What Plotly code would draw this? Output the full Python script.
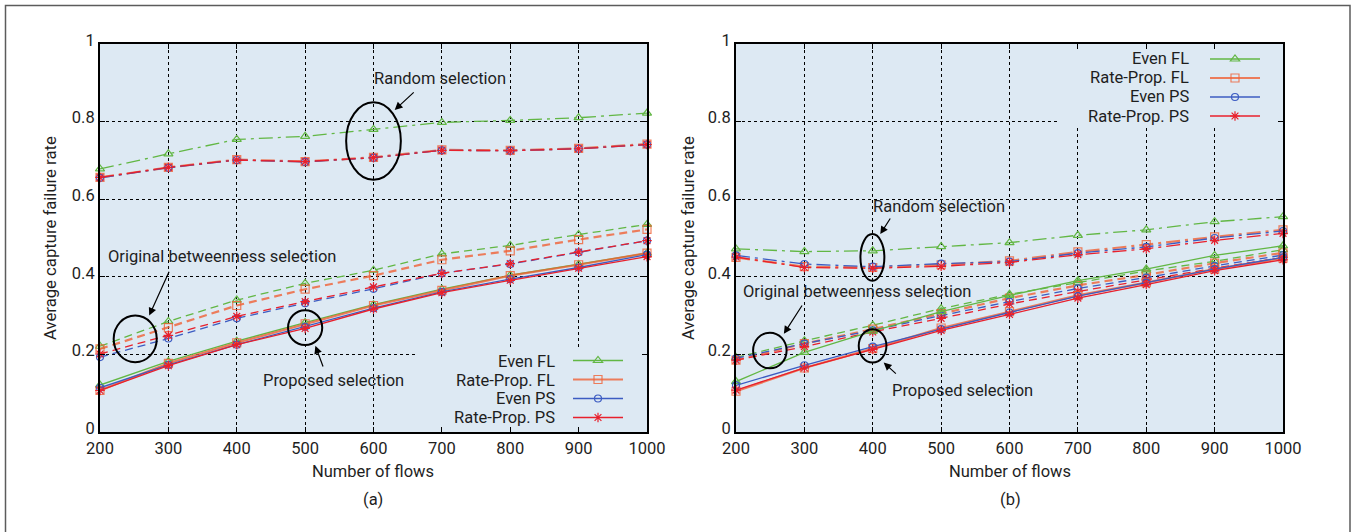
import plotly.graph_objects as go

# ---------------------------------------------------------------- data
flows = [200, 300, 400, 500, 600, 700, 800, 900, 1000]
y_ticks = [0, 0.2, 0.4, 0.6, 0.8, 1.0]
y_tick_text = ["0", "0.2", "0.4", "0.6", "0.8", "1"]
series_names = ["Even FL", "Rate-Prop. FL", "Even PS", "Rate-Prop. PS"]

# (a) random selection
a_rand_even_fl = [0.678, 0.717, 0.754, 0.762, 0.780, 0.798, 0.803, 0.810, 0.822]
a_rand_rate_fl = [0.656, 0.682, 0.702, 0.697, 0.708, 0.727, 0.726, 0.731, 0.742]
a_rand_even_ps = [0.655, 0.681, 0.701, 0.696, 0.707, 0.726, 0.725, 0.730, 0.741]
a_rand_rate_ps = [0.656, 0.682, 0.701, 0.697, 0.707, 0.726, 0.725, 0.730, 0.741]
# (a) original betweenness selection
a_orig_even_fl = [0.221, 0.285, 0.340, 0.383, 0.417, 0.459, 0.481, 0.509, 0.535]
a_orig_rate_fl = [0.214, 0.269, 0.326, 0.368, 0.403, 0.444, 0.467, 0.496, 0.522]
a_orig_even_ps = [0.193, 0.241, 0.293, 0.332, 0.369, 0.409, 0.433, 0.463, 0.493]
a_orig_rate_ps = [0.201, 0.249, 0.298, 0.336, 0.374, 0.409, 0.434, 0.464, 0.493]
# (a) proposed selection
a_prop_even_fl = [0.121, 0.182, 0.234, 0.282, 0.328, 0.368, 0.404, 0.432, 0.461]
a_prop_rate_fl = [0.107, 0.177, 0.230, 0.279, 0.326, 0.365, 0.403, 0.431, 0.461]
a_prop_even_ps = [0.114, 0.173, 0.225, 0.271, 0.319, 0.361, 0.394, 0.424, 0.457]
a_prop_rate_ps = [0.107, 0.171, 0.225, 0.267, 0.317, 0.359, 0.391, 0.422, 0.452]

# (b) random selection
b_rand_even_fl = [0.472, 0.465, 0.467, 0.478, 0.488, 0.507, 0.521, 0.542, 0.555]
b_rand_rate_fl = [0.450, 0.426, 0.424, 0.431, 0.441, 0.464, 0.483, 0.503, 0.521]
b_rand_even_ps = [0.455, 0.433, 0.426, 0.434, 0.439, 0.461, 0.477, 0.500, 0.518]
b_rand_rate_ps = [0.451, 0.424, 0.422, 0.427, 0.437, 0.457, 0.472, 0.494, 0.512]
# (b) original betweenness selection
b_orig_even_fl = [0.192, 0.235, 0.275, 0.318, 0.355, 0.385, 0.415, 0.440, 0.470]
b_orig_rate_fl = [0.185, 0.228, 0.265, 0.305, 0.345, 0.378, 0.405, 0.435, 0.462]
b_orig_even_ps = [0.190, 0.228, 0.262, 0.300, 0.336, 0.370, 0.398, 0.428, 0.456]
b_orig_rate_ps = [0.185, 0.220, 0.258, 0.293, 0.330, 0.362, 0.392, 0.422, 0.450]
# (b) proposed selection
b_prop_even_fl = [0.130, 0.205, 0.260, 0.310, 0.352, 0.390, 0.420, 0.455, 0.480]
b_prop_rate_fl = [0.105, 0.165, 0.215, 0.268, 0.310, 0.352, 0.385, 0.420, 0.448]
b_prop_even_ps = [0.120, 0.172, 0.220, 0.265, 0.308, 0.350, 0.385, 0.420, 0.450]
b_prop_rate_ps = [0.108, 0.165, 0.213, 0.262, 0.303, 0.345, 0.380, 0.416, 0.444]

# ---------------------------------------------------------------- style
W, H = 1358, 532
FONT = "Roboto, 'Liberation Sans', sans-serif"
TXT = "#1e1e1e"
PLOT_BG = "#dde9f3"
FS = 16.5

styles = [
    dict(color="#62b744", width=1.3, symbol="triangle-up-open", size=8),
    dict(color="rgba(240,96,52,0.8)", width=2.2, symbol="square-open", size=8),
    dict(color="#3c5cc2", width=1.3, symbol="circle-open", size=7),
    dict(color="#e8202c", width=1.3, symbol="asterisk-open", size=8),
]
dashes = {"rand": "14px,5px,3px,5px", "orig": "8px,5px", "prop": "solid"}

panels = [
    dict(x="x", y="y", legend="legend", data={
        "rand": [a_rand_even_fl, a_rand_rate_fl, a_rand_even_ps, a_rand_rate_ps],
        "orig": [a_orig_even_fl, a_orig_rate_fl, a_orig_even_ps, a_orig_rate_ps],
        "prop": [a_prop_even_fl, a_prop_rate_fl, a_prop_even_ps, a_prop_rate_ps],
    }),
    dict(x="x2", y="y2", legend="legend2", data={
        "rand": [b_rand_even_fl, b_rand_rate_fl, b_rand_even_ps, b_rand_rate_ps],
        "orig": [b_orig_even_fl, b_orig_rate_fl, b_orig_even_ps, b_orig_rate_ps],
        "prop": [b_prop_even_fl, b_prop_rate_fl, b_prop_even_ps, b_prop_rate_ps],
    }),
]

fig = go.Figure()
for p in panels:
    for scheme in ["rand", "orig", "prop"]:
        for i, vals in enumerate(p["data"][scheme]):
            s = styles[i]
            fig.add_trace(go.Scatter(
                x=flows, y=vals, mode="lines+markers",
                xaxis=p["x"], yaxis=p["y"],
                name="", legend=p["legend"],
                showlegend=(scheme == "prop"),
                cliponaxis=False,
                line=dict(color=s["color"], width=s["width"], dash=dashes[scheme]),
                marker=dict(symbol=s["symbol"], size=s["size"], color=s["color"],
                            line=dict(color=s["color"], width=1.2)),
                hoverinfo="x+y",
            ))

# axes
xdom_a = [100 / W, 647 / W]
xdom_b = [736 / W, 1283 / W]
ydom = [1 - 432 / H, 1 - 44 / H]
ax_common = dict(
    showline=True, linewidth=2, linecolor="black", mirror="ticks",
    ticks="inside", ticklen=5, tickwidth=1, tickcolor="black",
    showgrid=True, gridcolor="black", gridwidth=1, griddash="dot",
    zeroline=False, automargin=False,
    tickfont=dict(family=FONT, size=FS, color=TXT),
)
fig.update_layout(
    template="none",
    xaxis=dict(domain=xdom_a, range=[200, 1000], tickvals=flows, anchor="y", **ax_common),
    yaxis=dict(domain=ydom, range=[0, 1], tickvals=y_ticks, ticktext=y_tick_text,
               anchor="x", ticklabelshift=-4, **ax_common),
    xaxis2=dict(domain=xdom_b, range=[200, 1000], tickvals=flows, anchor="y2", **ax_common),
    yaxis2=dict(domain=ydom, range=[0, 1], tickvals=y_ticks, ticktext=y_tick_text,
                anchor="x2", ticklabelshift=-4, **ax_common),
)

fig.update_layout(
    width=W, height=H, margin=dict(l=0, r=0, t=0, b=0, pad=0, autoexpand=False),
    paper_bgcolor="white", plot_bgcolor=PLOT_BG,
    font=dict(family=FONT, color=TXT),
    legend=dict(x=568 / W, y=1 - 346 / H, xanchor="left", yanchor="top",
                bgcolor="rgba(0,0,0,0)", itemwidth=50, font=dict(size=12),
                tracegroupgap=0, borderwidth=0),
    legend2=dict(x=1205 / W, y=1 - 44.5 / H, xanchor="left", yanchor="top",
                 bgcolor="rgba(0,0,0,0)", itemwidth=50, font=dict(size=12),
                 tracegroupgap=0, borderwidth=0),
)

shapes = []
annotations = []

# key boxes hide the grid behind the legends
shapes.append(dict(type="rect", xref="x", yref="y", x0=661, x1=1000, y0=0, y1=0.213,
                   fillcolor=PLOT_BG, line=dict(width=0), layer="between"))
shapes.append(dict(type="rect", xref="x2", yref="y2", x0=671, x1=1000, y0=0.786, y1=1,
                   fillcolor=PLOT_BG, line=dict(width=0), layer="between"))

# legend labels (right-aligned, left of the samples)
for text_right, row0, step in [(557, 361.5, 18.6), (1191, 59, 19)]:
    for k, name in enumerate(series_names):
        annotations.append(dict(
            text=name, xref="paper", yref="paper", x=text_right / W,
            y=1 - (row0 + k * step) / H, xanchor="right", yanchor="middle",
            showarrow=False, font=dict(family=FONT, size=FS, color=TXT)))

# callouts: ellipse, label and arrow for each selection scheme
callouts = [
    # xref, yref, ellipse box, label pos, arrow tail, arrow head, label
    ("x", "y", (560, 640, 0.65, 0.85), (697, 0.912), (661, 0.879), (631, 0.830), "Random selection"),
    ("x", "y", (220, 283, 0.18, 0.30), (378, 0.452), (302, 0.417), (272, 0.300), "Original betweenness selection"),
    ("x", "y", (475, 525, 0.224, 0.314), (542, 0.134), (527, 0.165), (515, 0.222), "Proposed selection"),
    ("x2", "y2", (382, 417, 0.39, 0.51), (497, 0.582), (427, 0.554), (411, 0.510), "Random selection"),
    ("x2", "y2", (225, 274, 0.164, 0.256), (377, 0.363), (298, 0.330), (270, 0.253), "Original betweenness selection"),
    ("x2", "y2", (379.5, 420, 0.179, 0.265), (531, 0.106), (436, 0.147), (416, 0.179), "Proposed selection"),
]
for xr, yr, (ex0, ex1, ey0, ey1), (lx, ly), (tx, ty), (hx, hy), label in callouts:
    shapes.append(dict(type="circle", xref=xr, yref=yr, x0=ex0, x1=ex1, y0=ey0, y1=ey1,
                       line=dict(color="black", width=2), layer="above"))
    annotations.append(dict(text=label, xref=xr, yref=yr, x=lx, y=ly, showarrow=False,
                            xanchor="center", yanchor="middle",
                            font=dict(family=FONT, size=FS, color=TXT)))
    annotations.append(dict(text="", xref=xr, yref=yr, x=hx, y=hy, axref=xr, ayref=yr,
                            ax=tx, ay=ty, showarrow=True, arrowhead=2, arrowsize=1.3,
                            arrowwidth=1.2, arrowcolor="black"))

# axis titles and panel captions
for cx in (50, 688):
    annotations.append(dict(text="Average capture failure rate", xref="paper", yref="paper",
                            x=cx / W, y=1 - 238 / H, textangle=-90, showarrow=False,
                            xanchor="center", yanchor="middle",
                            font=dict(family=FONT, size=16.7, color=TXT)))
for cx, cap in ((373, "(a)"), (1010, "(b)")):
    annotations.append(dict(text="Number of flows", xref="paper", yref="paper",
                            x=cx / W, y=1 - 471 / H, showarrow=False,
                            xanchor="center", yanchor="middle",
                            font=dict(family=FONT, size=FS, color=TXT)))
    annotations.append(dict(text=cap, xref="paper", yref="paper",
                            x=cx / W, y=1 - 499 / H, showarrow=False,
                            xanchor="center", yanchor="middle",
                            font=dict(family=FONT, size=FS, color=TXT)))

# outer frame
shapes.append(dict(type="rect", xref="paper", yref="paper", x0=5.5 / W, x1=1350 / W,
                   y0=-0.05, y1=1 - 5.5 / H, line=dict(color="#5c5c5c", width=1.5),
                   layer="above"))

fig.update_layout(shapes=shapes, annotations=annotations)
fig.write_html("out.html",
               post_script="document.body.style.margin='0';document.body.style.overflow='hidden';")
